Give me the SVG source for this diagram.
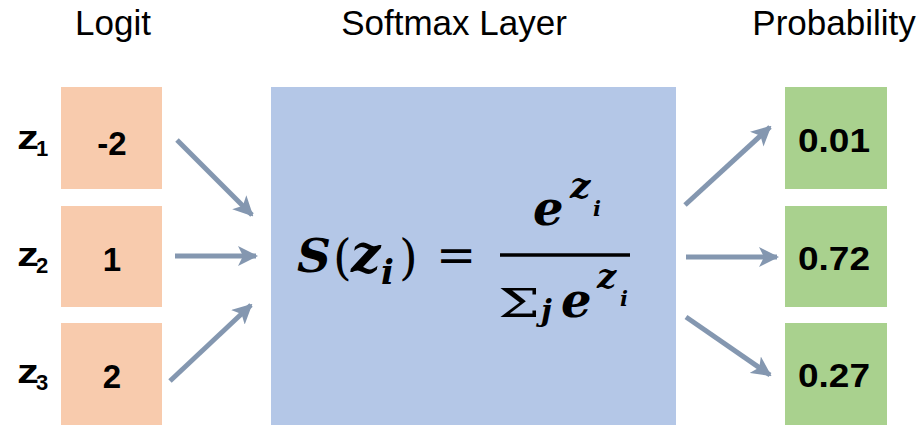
<svg xmlns="http://www.w3.org/2000/svg" width="923" height="425" viewBox="0 0 923 425">
<style>
.title{font-family:"Liberation Sans",Arial,sans-serif;font-size:35px;fill:#000;text-anchor:middle}
.num{font-family:"Liberation Sans",Arial,sans-serif;font-size:33px;font-weight:bold;fill:#000;text-anchor:middle}
.zl{font-family:"Liberation Sans",Arial,sans-serif;font-size:33px;font-weight:bold;fill:#000}
.zs{font-family:"Liberation Sans",Arial,sans-serif;font-size:22px;font-weight:bold;fill:#000}
.logit{fill:#F8CBAD}
.prob{fill:#A9D18E}
.soft{fill:#B4C7E7}
.m{font-family:"DejaVu Serif",serif;font-weight:bold;font-style:italic;fill:#000}
.mu{font-family:"DejaVu Serif",serif;fill:#000}
.conn line{stroke:#8497B0;stroke-width:5;marker-end:url(#ah)}
</style>
<defs>
<marker id="ah" viewBox="0 0 10 10" refX="9" refY="5" markerWidth="4" markerHeight="4" orient="auto" markerUnits="strokeWidth">
<path d="M0,0 L10,5 L0,10 L2.5,5 Z" fill="#8497B0"/>
</marker>
</defs>
<rect width="923" height="425" fill="#fff"/>
<g id="titles">
<text class="title" x="113" y="35">Logit</text>
<text class="title" x="454" y="35">Softmax Layer</text>
<text class="title" x="834" y="35">Probability</text>
</g>
<g id="z1"><text class="zl" x="17" y="149" textLength="22" lengthAdjust="spacingAndGlyphs">z</text><text class="zs" x="36" y="156">1</text></g>
<g id="z2"><text class="zl" x="17" y="266" textLength="22" lengthAdjust="spacingAndGlyphs">z</text><text class="zs" x="36" y="273">2</text></g>
<g id="z3"><text class="zl" x="17" y="383" textLength="22" lengthAdjust="spacingAndGlyphs">z</text><text class="zs" x="36" y="390">3</text></g>
<g id="logit1"><rect class="logit" x="61" y="87" width="101" height="102"/><text class="num" x="112" y="155">-2</text></g>
<g id="logit2"><rect class="logit" x="61" y="206" width="101" height="101"/><text class="num" x="112" y="271">1</text></g>
<g id="logit3"><rect class="logit" x="61" y="323" width="101" height="102"/><text class="num" x="112" y="388">2</text></g>
<g id="softmax">
<rect class="soft" x="271" y="87" width="405" height="338"/>
<text class="m" x="297" y="272" font-size="47">S</text>
<text class="mu" x="333" y="274" font-size="48">(</text>
<text class="m" x="351" y="272" font-size="52">z</text>
<text class="m" x="381" y="284" font-size="34">i</text>
<text class="mu" x="399" y="274" font-size="48">)</text>
<text class="mu" x="436" y="272" font-size="48">=</text>
<line x1="500" y1="255" x2="630" y2="255" stroke="#000" stroke-width="3.5"/>
<text class="m" x="533" y="225" font-size="48">e</text>
<text class="m" x="570" y="198" font-size="36">z</text>
<text class="m" x="593" y="216" font-size="21">i</text>
<text class="mu" x="498" y="317" font-size="40" textLength="42" lengthAdjust="spacingAndGlyphs">Σ</text>
<text class="m" x="541" y="321" font-size="30">j</text>
<text class="m" x="561" y="317" font-size="48">e</text>
<text class="m" x="597" y="288" font-size="34">z</text>
<text class="m" x="620" y="306" font-size="21">i</text>
</g>
<g id="prob1"><rect class="prob" x="785" y="87" width="102" height="102"/><text class="num" x="834" y="152" textLength="72" lengthAdjust="spacingAndGlyphs">0.01</text></g>
<g id="prob2"><rect class="prob" x="785" y="206" width="102" height="101"/><text class="num" x="834" y="270" textLength="72" lengthAdjust="spacingAndGlyphs">0.72</text></g>
<g id="prob3"><rect class="prob" x="785" y="323" width="102" height="102"/><text class="num" x="834" y="387" textLength="72" lengthAdjust="spacingAndGlyphs">0.27</text></g>
<g id="connectors" class="conn">
<line x1="177" y1="140" x2="252" y2="215"/>
<line x1="175" y1="256" x2="256" y2="256"/>
<line x1="170" y1="381" x2="251" y2="305"/>
<line x1="685" y1="205" x2="770" y2="127"/>
<line x1="686" y1="257" x2="777" y2="257"/>
<line x1="686" y1="317" x2="770" y2="375"/>
</g>
</svg>
